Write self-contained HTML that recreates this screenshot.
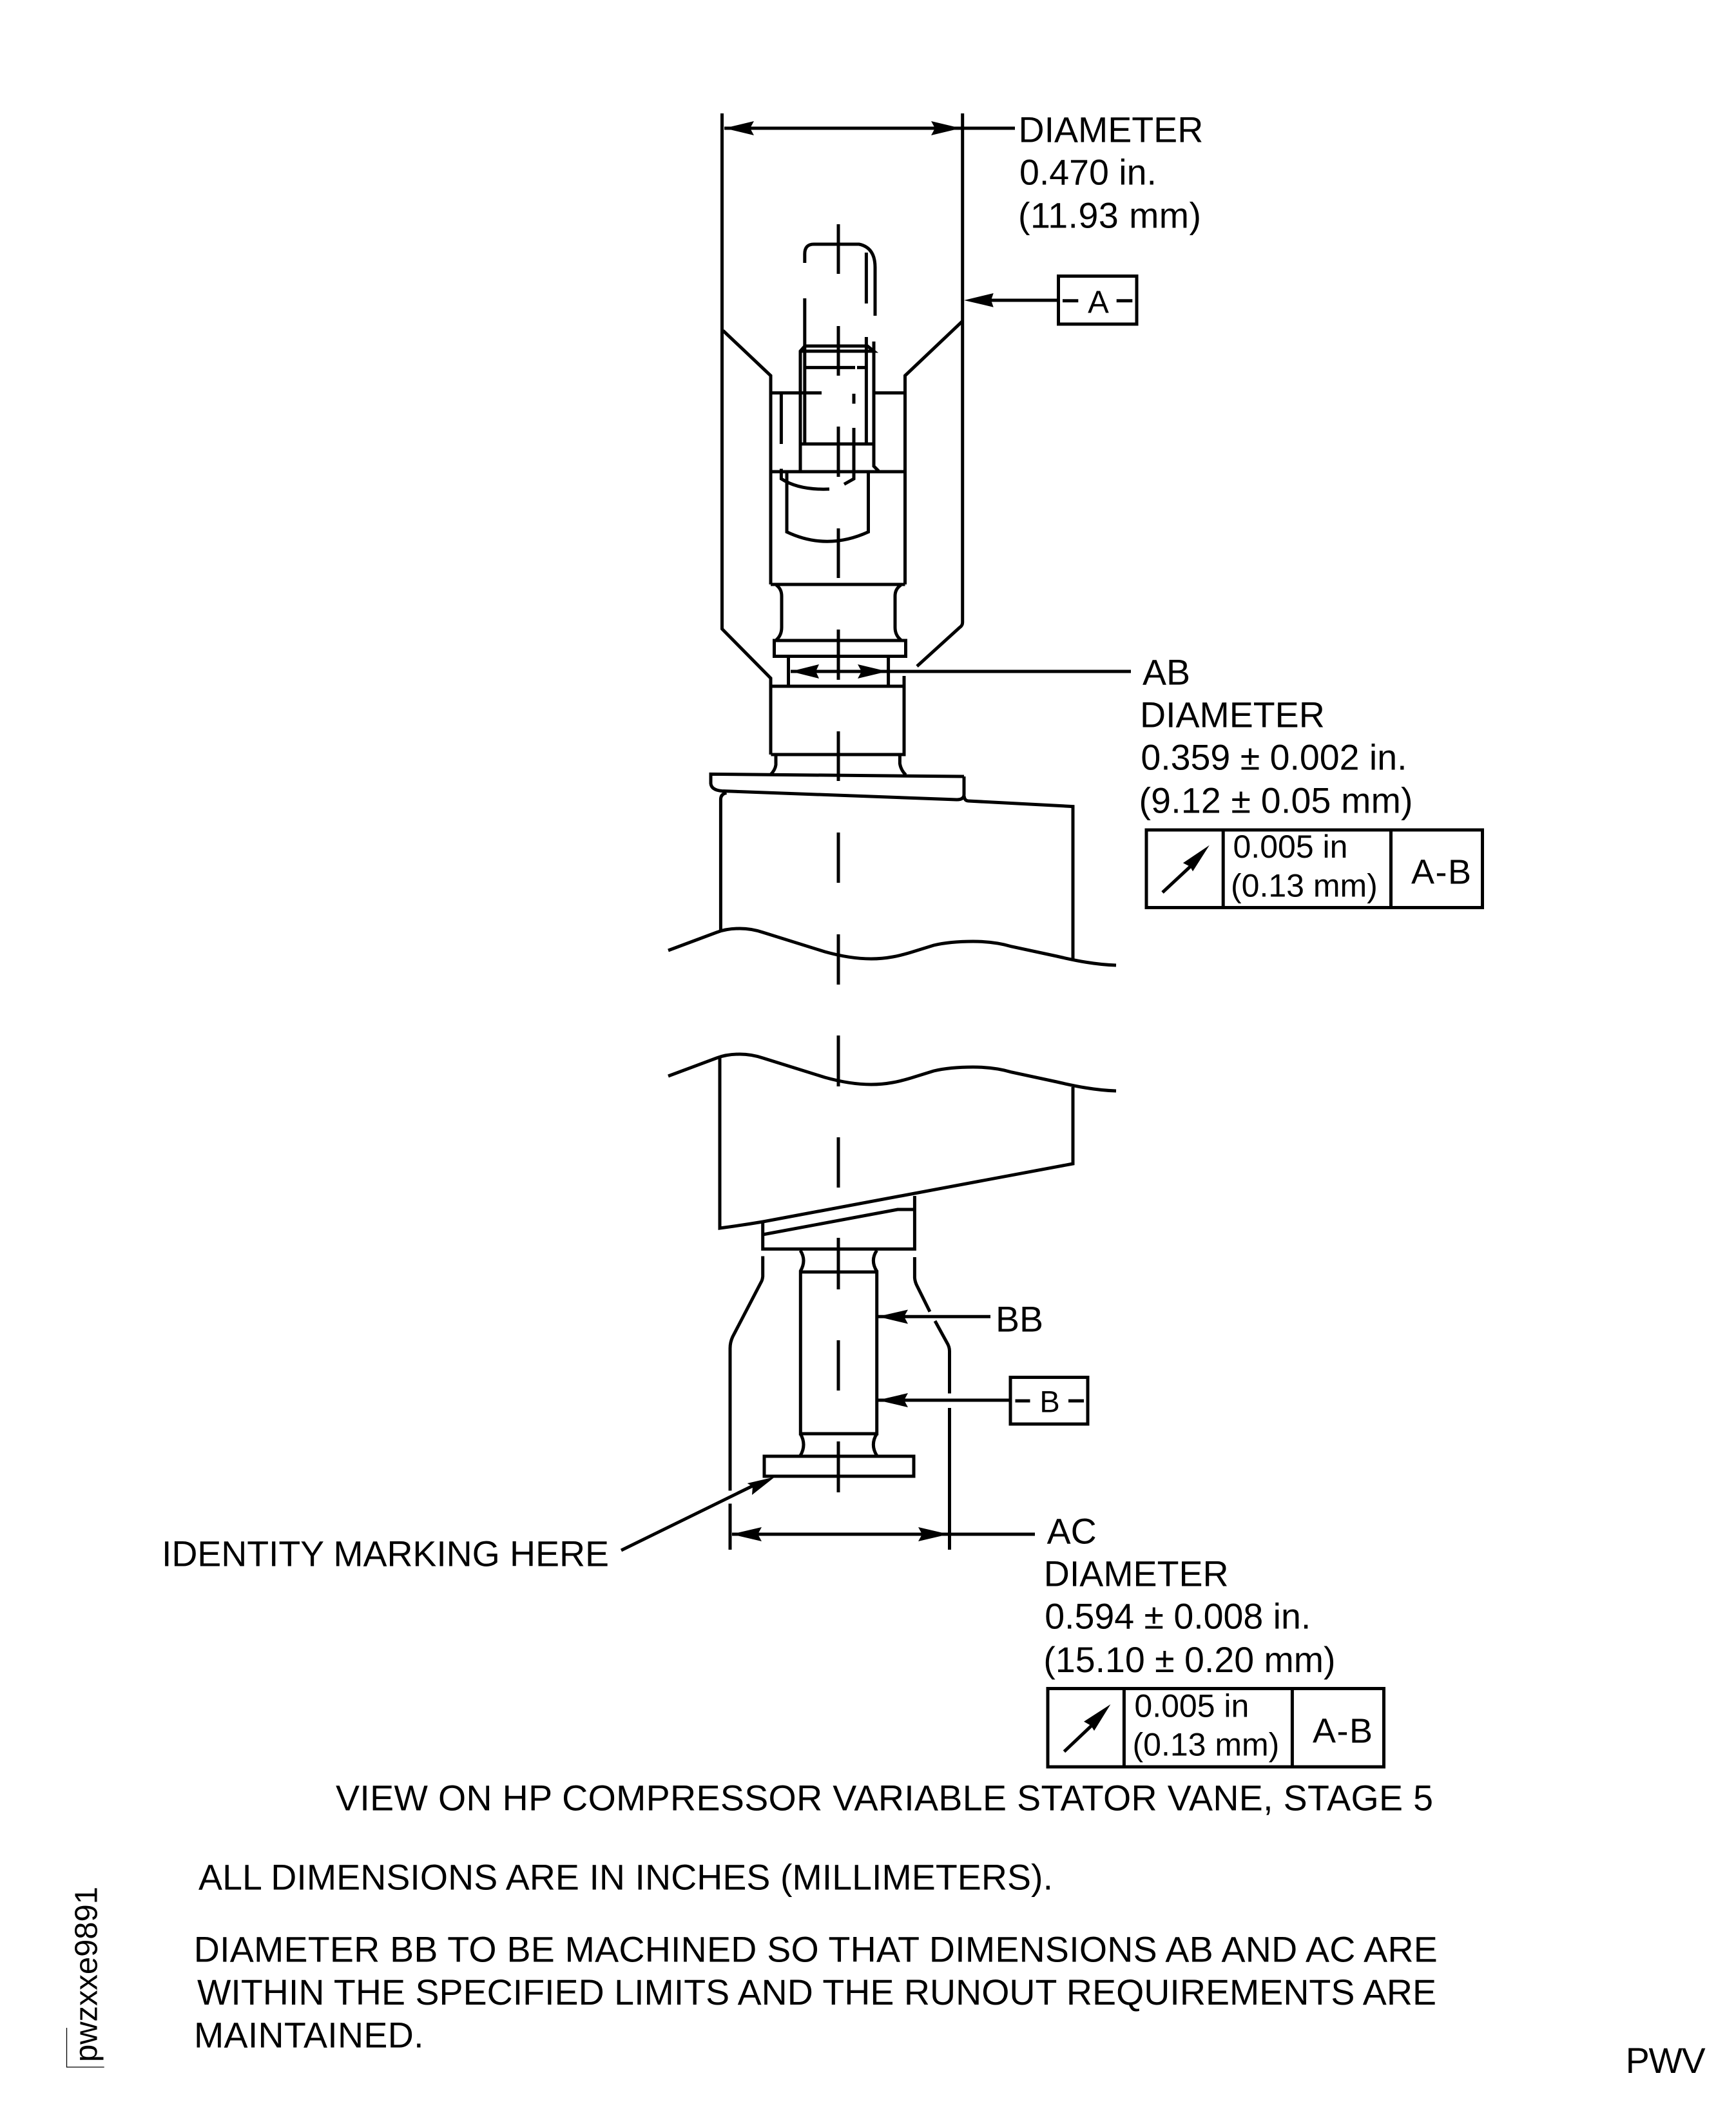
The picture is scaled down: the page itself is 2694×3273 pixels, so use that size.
<!DOCTYPE html>
<html>
<head>
<meta charset="utf-8">
<style>
html,body{margin:0;padding:0;background:#fff;}
svg{display:block;position:absolute;left:0;top:0;}
text{font-family:"Liberation Sans",Arial,sans-serif;fill:#000;}
.t{font-size:55.5px;}
.s{font-size:50px;}
</style>
</head>
<body>
<svg width="2694" height="3273" viewBox="0 0 2694 3273" xmlns="http://www.w3.org/2000/svg">
<rect width="2694" height="3273" fill="#fff"/>
<g fill="none" stroke="#000" stroke-width="5">
<!-- centre line -->
<path d="M1301 348V425M1301 506V583M1301 662V740M1301 820V897M1301 977V1055M1301 1135V1212M1301 1292V1370M1301 1450V1528M1301 1607V1686M1301 1765V1843M1301 1921V2001M1301 2080V2158M1301 2237V2316"/>

<!-- top dimension -->
<path d="M1120.5 176V976L1196 1052.5V1171M1493.7 176V966Q1493.7 971 1489 974L1423 1034M1124 199H1575"/>
<path d="M1122 513L1196 583V907M1493 499L1404.5 583V907"/>
<!-- upper socket lines -->
<path d="M1196 609.7H1275M1358 609.7H1404.5M1196 732H1404.5M1196 907H1404.5"/>
<path d="M1212.4 610V689"/>
<path d="M1242 732V545L1249 537H1346L1356 545H1242"/>
<path d="M1248.8 463V689M1248.8 408V394Q1248.8 379 1263 379H1333Q1358 384 1358 415V490M1344.4 392V471M1344.4 523V689M1356 530V723.5L1363.5 731"/>
<path d="M1249 570.4H1327M1330 570.4H1342.5"/>
<path d="M1242 689H1356"/>
<path d="M1325 611V626.5M1325 664V743L1310 751.5"/>
<path d="M1212.4 727.5V743Q1240 761 1287 759"/>
<path d="M1221 732V825.5Q1283 855 1347.5 825.5V732"/>
<!-- neck and flange -->
<path d="M1204.7 908Q1213 914 1213 925V973.5Q1213 986 1204.7 993M1398 908Q1389 914 1389 925V973.5Q1389 986 1398 993"/>
<rect x="1201.5" y="994" width="204" height="24.5"/>
<path d="M1223.5 1019V1065M1378.6 1019V1065M1227 1042H1755"/>
<path d="M1196.4 1065H1403M1403 1049V1171H1196.4"/>
<path d="M1204 1173V1187Q1203 1195 1195.4 1202.6M1396.4 1173V1185Q1398 1195 1405.6 1202.6"/>
<!-- platform -->
<path d="M1496 1205L1103 1201.4V1216Q1104 1226 1120 1227.5L1484.7 1241Q1496 1241 1496 1233V1205"/>
<path d="M1496 1235Q1497 1243 1502.5 1243L1665 1251.6V1489.6"/>
<path d="M1127.5 1230.5Q1118.4 1232 1118.4 1241V1445.6"/>
<!-- break lines -->
<path d="M1037 1475L1112 1447C1125 1442 1138 1441 1148 1441C1160 1441 1172 1443 1184 1447L1280 1477C1305 1484 1330 1488 1352 1488C1375 1488 1395 1484 1420 1476L1449 1467C1470 1462 1490 1461 1510 1461C1530 1461 1550 1463 1570 1469L1640 1484C1670 1491 1700 1497 1732 1498"/>
<path d="M1037 1670L1112 1642C1125 1637 1138 1636 1148 1636C1160 1636 1172 1638 1184 1642L1280 1672C1305 1679 1330 1683 1352 1683C1375 1683 1395 1679 1420 1671L1449 1662C1470 1657 1490 1656 1510 1656C1530 1656 1550 1658 1570 1664L1640 1679C1670 1686 1700 1692 1732 1693"/>
<!-- lower aerofoil -->
<path d="M1117 1640V1906C1140 1903 1160 1900 1184 1896L1665 1806V1687"/>
<!-- lower block -->
<path d="M1183.7 1896V1938.4H1419.4V1856M1183.7 1916L1393 1877H1419"/>
<path d="M1183.7 1949.5V1981Q1183 1987 1181 1990L1137 2074.5Q1133 2083 1133 2092.4V2313.4M1133 2333.5V2405"/>
<path d="M1419.4 1951V1983Q1420 1990 1423.5 1996.4L1443 2035.7M1451 2050L1469.4 2083.5Q1473.5 2090 1473.5 2097V2162.5M1473.5 2185V2405"/>
<rect x="1242.3" y="1974" width="118.4" height="251"/>
<path d="M1242 1940.6Q1252 1956 1242 1973M1360.7 1940.6Q1350 1956 1360.7 1973M1242 2225Q1252 2242 1242 2259M1360.7 2225Q1350 2242 1360.7 2259"/>
<rect x="1186" y="2260" width="232" height="31"/>
<!-- leaders -->
<path d="M1362 2043.3H1537M1362 2173H1566M1136 2381H1606M1538 466H1640M964 2406L1172 2304"/>
<rect x="1642.5" y="428.5" width="121.5" height="74.5"/>
<path d="M1649 466.7H1673.3M1732.7 466.7H1757.3"/>
<rect x="1568" y="2137.5" width="120" height="72.5"/>
<path d="M1575.5 2174H1598.5M1658 2174H1682"/>
<!-- control frame 1 -->
<rect x="1779" y="1288" width="521.5" height="120.5"/>
<path d="M1898.2 1288V1408M2158.5 1288V1408"/>
<path d="M1804 1385L1848 1344"/>
<!-- control frame 2 -->
<rect x="1626" y="2620.5" width="521.5" height="121.5"/>
<path d="M1744.4 2620.5V2742M2005.4 2620.5V2742"/>
<path d="M1651.4 2718.3L1695 2677"/>
<path d="M103.5 3147V3208H161.7" stroke-width="1.3"/>
</g>
<!-- arrowheads -->
<g fill="#000" stroke="none">
<polygon points="1124,199 1170,188 1164,199 1170,210"/>
<polygon points="1491,199 1445,188 1451,199 1445,210"/>
<polygon points="1496,466 1541.7,455 1538,466 1541.7,476.7"/>
<polygon points="1227,1042 1271,1031 1266,1042 1271,1053"/>
<polygon points="1377,1042 1331,1031 1337,1042 1331,1053"/>
<polygon points="1362,2043.3 1409,2032.5 1403,2043.3 1409,2054.5"/>
<polygon points="1362,2173 1409,2162 1403,2173 1409,2184"/>
<polygon points="1135,2381 1182,2370 1176,2381 1182,2392"/>
<polygon points="1472,2381 1425,2370 1431,2381 1425,2392"/>
<polygon points="1202.5,2292 1159.7,2302 1168,2307 1167,2320"/>
<polygon points="1876.8,1311.7 1835.9,1339.3 1847,1345 1851,1352.3"/>
<polygon points="1723.4,2645 1682,2671.7 1693,2678 1698,2686"/>
</g>
<!-- labels -->
<text class="t" x="1580.5" y="220.5">DIAMETER</text>
<text class="t" x="1582" y="286.5">0.470 in.</text>
<text class="t" x="1580" y="353.5" textLength="284">(11.93 mm)</text>
<text x="1704.5" y="485.7" font-size="49" text-anchor="middle">A</text>
<text class="t" x="1773" y="1062.3">AB</text>
<text class="t" x="1769" y="1128.3">DIAMETER</text>
<text class="t" x="1770.4" y="1194.3">0.359 ± 0.002 in.</text>
<text class="t" x="1767.5" y="1261.7" textLength="425">(9.12 ± 0.05 mm)</text>
<text class="s" x="1913.5" y="1331">0.005 in</text>
<text class="s" x="1910" y="1391.7">(0.13 mm)</text>
<text x="2190" y="1371.7" font-size="54" textLength="93">A-B</text>
<text class="t" x="1545" y="2066.5">BB</text>
<text x="1629" y="2191.5" font-size="47" text-anchor="middle">B</text>
<text class="t" x="251" y="2430.7" textLength="694">IDENTITY MARKING HERE</text>
<text class="t" x="1624.6" y="2395.7">AC</text>
<text class="t" x="1619.8" y="2461.7">DIAMETER</text>
<text class="t" x="1621.2" y="2527.3">0.594 ± 0.008 in.</text>
<text class="t" x="1619.4" y="2595">(15.10 ± 0.20 mm)</text>
<text class="s" x="1760.4" y="2664.3">0.005 in</text>
<text class="s" x="1757.5" y="2724.3">(0.13 mm)</text>
<text x="2037" y="2704.3" font-size="54" textLength="93">A-B</text>
<text class="t" x="521" y="2809.4" textLength="1703">VIEW ON HP COMPRESSOR VARIABLE STATOR VANE, STAGE 5</text>
<text class="t" x="308" y="2932.5" textLength="1326">ALL DIMENSIONS ARE IN INCHES (MILLIMETERS).</text>
<text class="t" x="300.8" y="3044.5" textLength="1930">DIAMETER BB TO BE MACHINED SO THAT DIMENSIONS AB AND AC ARE</text>
<text class="t" x="306" y="3110.8" textLength="1923">WITHIN THE SPECIFIED LIMITS AND THE RUNOUT REQUIREMENTS ARE</text>
<text class="t" x="301" y="3177.3" textLength="356.5">MAINTAINED.</text>
<text class="t" x="2522.7" y="3217" textLength="124">PWV</text>
<text transform="translate(150.7 3200) rotate(-90)" font-size="49" textLength="272">pwzxxe9891</text>
</svg>
</body>
</html>
